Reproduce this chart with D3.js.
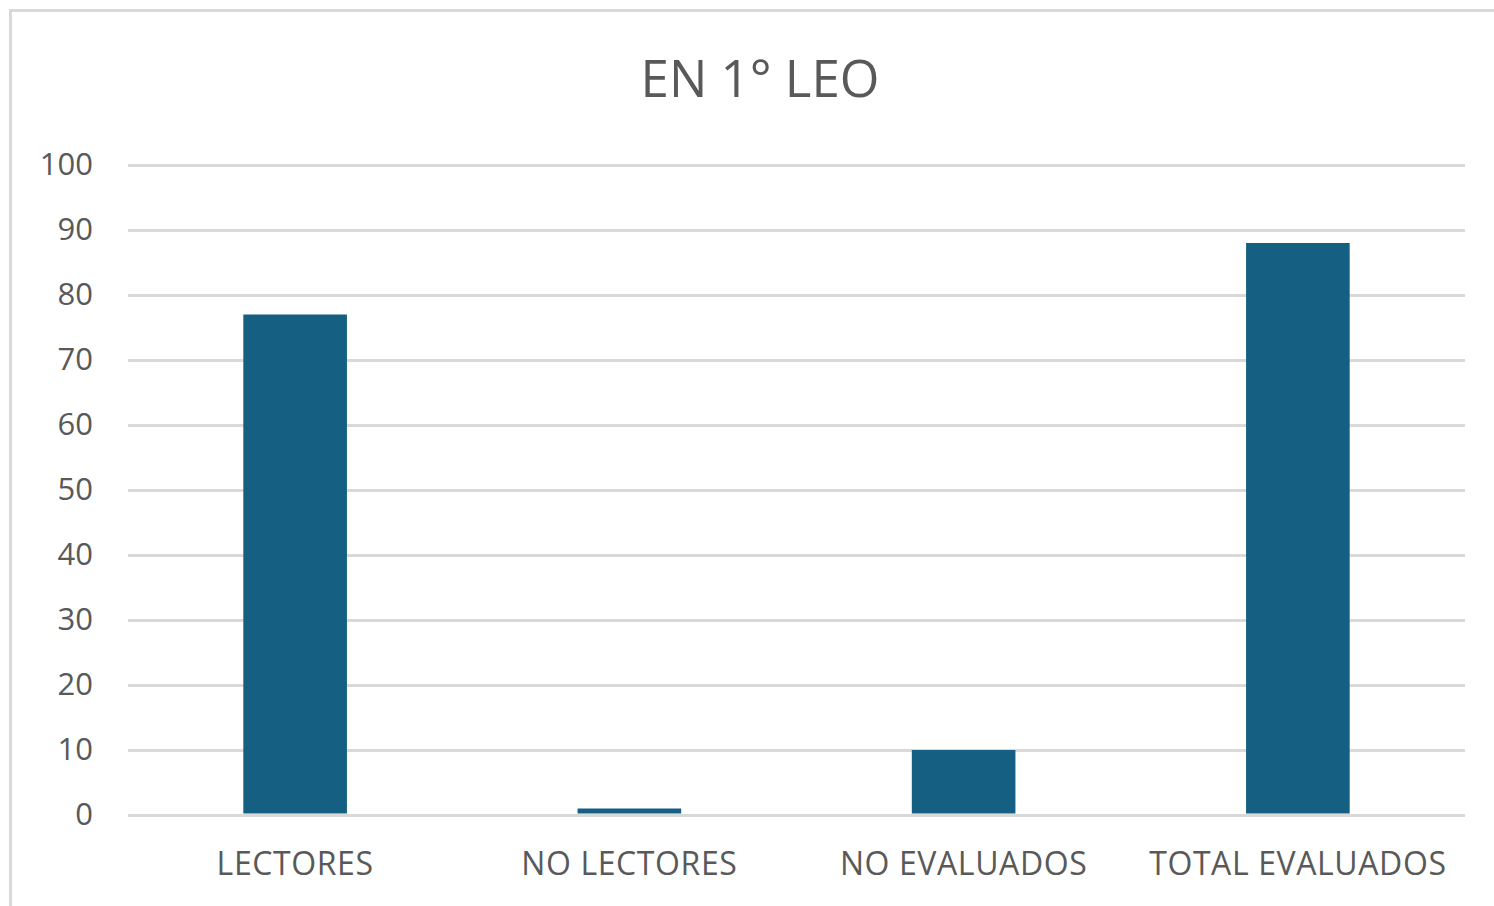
<!DOCTYPE html>
<html>
<head>
<meta charset="utf-8">
<script src="https://cdn.jsdelivr.net/npm/d3@7"></script>
<style>
  html, body { margin: 0; padding: 0; background: #fff; }
  svg { display: block; font-family: "Open Sans", sans-serif; }
  .grid line { stroke: #d9d9d9; stroke-width: 3; }
  .grid .domain { display: none; }
  .axis-y text, .axis-x text { fill: #595959; }
</style>
</head>
<body>
<svg width="1494" height="906"></svg>
<script>
(function () {
    //Données du graphique
    var categories = ["LECTORES", "NO LECTORES", "NO EVALUADOS", "TOTAL EVALUADOS"];
    var valeurs = [77, 1, 10, 88];
    var ticksY = [0, 10, 20, 30, 40, 50, 60, 70, 80, 90, 100];
    var titre = "EN 1° LEO";

    var svg = d3.select("svg");
    var margin = {top: 165, right: 29, bottom: 91, left: 128},
        width = +svg.attr("width") - margin.left - margin.right,
        height = +svg.attr("height") - margin.top - margin.bottom;

    //Cadre du graphique (bords droit et bas hors de l'image)
    svg.append("rect")
        .attr("x", 10.5).attr("y", 10.5)
        .attr("width", 1500).attr("height", 1000)
        .attr("fill", "none")
        .attr("stroke", "#d9d9d9")
        .attr("stroke-width", 3);

    //Titre
    svg.append("text")
        .attr("x", 760).attr("y", 97)
        .attr("text-anchor", "middle")
        .attr("fill", "#595959")
        .style("font-size", "51px")
        .text(titre);

    var zone = svg.append("g")
        .attr("transform", "translate(" + margin.left + "," + margin.top + ")");

    var x = d3.scaleBand()
        .domain(categories)
        .range([0, width])
        .paddingInner(0.69)
        .paddingOuter(0.345);

    var y = d3.scaleLinear()
        .domain([0, 100])
        .range([height, 0]);

    //Grille horizontale
    zone.append("g")
        .attr("class", "grid")
        .call(d3.axisLeft(y).tickValues(ticksY).tickSize(-width).tickFormat(""));

    //Barres
    zone.selectAll(".bar")
        .data(valeurs)
        .enter().append("rect")
        .attr("class", "bar")
        .attr("x", (d, i) => x(categories[i]))
        .attr("y", d => y(d))
        .attr("width", x.bandwidth())
        .attr("height", d => height - y(d) - 1.5)
        .attr("fill", "#156082");

    //Axe vertical (texte seulement)
    var axeY = zone.append("g")
        .attr("class", "axis-y")
        .call(d3.axisLeft(y).tickValues(ticksY).tickSize(0).tickPadding(35));
    axeY.select(".domain").remove();
    axeY.selectAll("text")
        .style("font-size", "31px")
        .style("font-family", "'Open Sans', sans-serif");

    //Axe horizontal (texte seulement)
    var axeX = zone.append("g")
        .attr("class", "axis-x")
        .attr("transform", "translate(0," + height + ")")
        .call(d3.axisBottom(x).tickSize(0).tickPadding(37));
    axeX.select(".domain").remove();
    axeX.selectAll("text")
        .style("font-size", "32px")
        .style("letter-spacing", "0.6px")
        .style("font-family", "'Open Sans', sans-serif");
})();
</script>
</body>
</html>
